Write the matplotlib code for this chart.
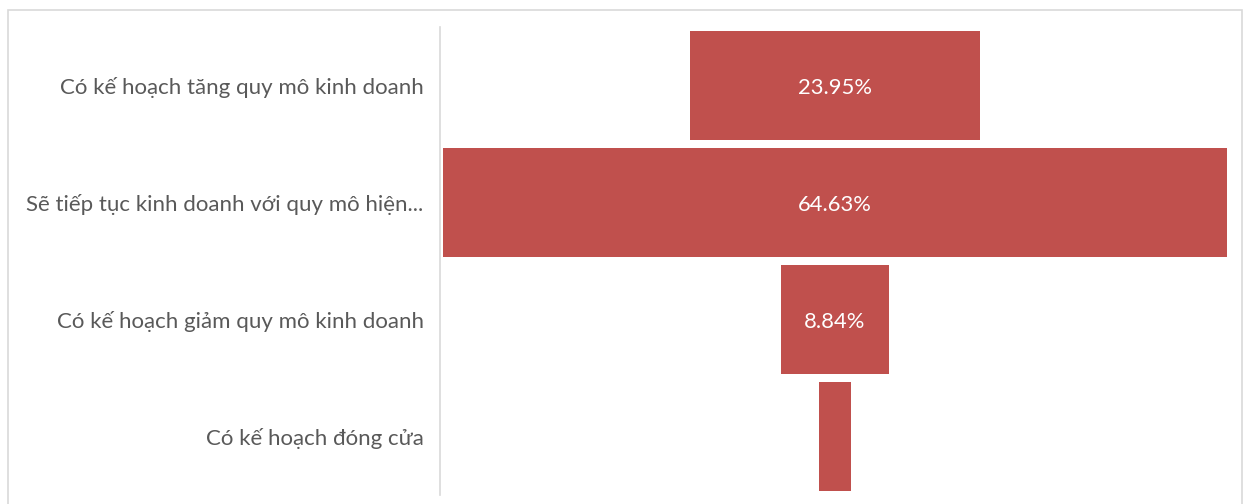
import matplotlib
matplotlib.use("Agg")
import matplotlib.pyplot as plt
from matplotlib.patches import Rectangle

categories = [
    "Có kế hoạch tăng quy mô kinh doanh",
    "Sẽ tiếp tục kinh doanh với quy mô hiện...",
    "Có kế hoạch giảm quy mô kinh doanh",
    "Có kế hoạch đóng cửa",
]
values = [23.95, 64.63, 8.84, 2.58]
value_labels = ["23.95%", "64.63%", "8.84%", ""]

BAR_COLOR = "#C0504D"
TEXT_COLOR = "#595959"
FONT = ["Lato", "DejaVu Sans"]

W, H = 1247, 504
fig = plt.figure(figsize=(W / 100, H / 100), dpi=100)
fig.patch.set_facecolor("white")

# light frame around the chart area
fig.patches.append(Rectangle((8 / W, -0.05), (1242 - 8) / W, (H - 10) / H + 0.05,
                             transform=fig.transFigure, fill=False,
                             edgecolor="#D9D9D9", linewidth=1.2))

left, right = 443, 1227
top, bottom = 27, 495
ax = fig.add_axes([left / W, 1 - bottom / H, (right - left) / W, (bottom - top) / H])

half = max(values) / 2
ax.set_xlim(-half, half)
ax.set_ylim(len(values) - 0.5, -0.5)

ypos = list(range(len(values)))
ax.barh(ypos, values, left=[-v / 2 for v in values], height=0.93,
        color=BAR_COLOR, edgecolor="none")

for y, v, lab in zip(ypos, values, value_labels):
    if lab:
        ax.text(0, y + 0.02, lab, ha="center", va="center", color="white",
                fontsize=15.8, family=FONT)

for side in ("top", "right", "bottom"):
    ax.spines[side].set_visible(False)
ax.spines["left"].set_position(("outward", 2))
ax.spines["left"].set_color("#D9D9D9")
ax.spines["left"].set_linewidth(1.2)

ax.set_xticks([])
ax.set_yticks(ypos)
ax.set_yticklabels(categories, family=FONT, fontsize=16, color=TEXT_COLOR)
ax.tick_params(axis="y", length=0, pad=12)

fig.savefig("out.png", dpi=100, facecolor="white")
